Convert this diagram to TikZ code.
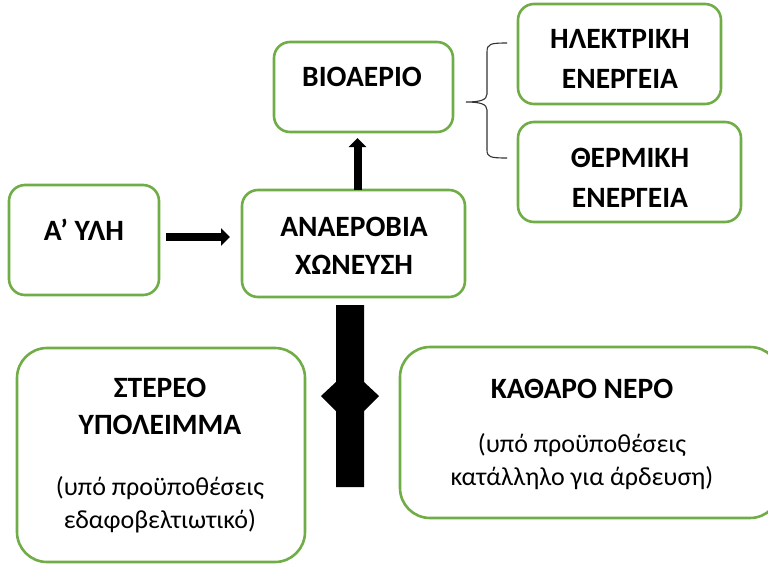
\documentclass[tikz,border=0pt]{standalone}
\usepackage{fontspec}
\setmainfont{Carlito}
\usetikzlibrary{arrows.meta}
\definecolor{boxgreen}{HTML}{70AD47}
\begin{document}
\begin{tikzpicture}[x=1pt,y=-1pt,
  box/.style={draw=boxgreen,line width=2.6pt,rounded corners=16pt,fill=white,
    inner sep=0pt,outer sep=0pt,anchor=north west},
  bigbox/.style={box,rounded corners=30pt},
  head/.style={font=\fontsize{29.5}{33}\selectfont\bfseries,inner sep=0pt},
  note/.style={font=\fontsize{26}{30}\selectfont,inner sep=0pt},
  flow/.style={line width=8pt,-{Triangle[length=9pt,width=17pt]}}]
\useasboundingbox (0,0) rectangle (768,565);
% boxes
\node[box,minimum width=179pt,minimum height=90pt] (bio) at (274,42) {};
\node[box,minimum width=203pt,minimum height=100pt] (elec) at (518,4) {};
\node[box,minimum width=223pt,minimum height=100pt] (therm) at (518,122) {};
\node[box,minimum width=150pt,minimum height=110pt] (raw) at (9,185) {};
\node[box,minimum width=223pt,minimum height=107pt] (digest) at (242,190) {};
\node[bigbox,minimum width=288pt,minimum height=214pt] (solid) at (17,348) {};
\node[bigbox,minimum width=380pt,minimum height=171pt] (water) at (400,347) {};
% labels
\node[head] (tbio) at (362,77) {ΒΙΟΑΕΡΙΟ};
\node[head] (telec1) at (620,39) {ΗΛΕΚΤΡΙΚΗ};
\node[head] (telec2) at (620,79) {ΕΝΕΡΓΕΙΑ};
\node[head] (ttherm1) at (630,157.5) {ΘΕΡΜΙΚΗ};
\node[head] (ttherm2) at (630,197.5) {ΕΝΕΡΓΕΙΑ};
\node[head] (traw) at (84,230) {Α’ ΥΛΗ};
\node[head] (tdig1) at (354,227) {ΑΝΑΕΡΟΒΙΑ};
\node[head] (tdig2) at (354,265) {ΧΩΝΕΥΣΗ};
\node[head] (tsol1) at (160,388) {ΣΤΕΡΕΟ};
\node[head] (tsol2) at (160,425) {ΥΠΟΛΕΙΜΜΑ};
\node[note] (tsol3) at (160,488) {(υπό προϋποθέσεις};
\node[note] (tsol4) at (160,521) {εδαφοβελτιωτικό)};
\node[head] (twat1) at (582,389) {ΚΑΘΑΡΟ ΝΕΡΟ};
\node[note] (twat2) at (582,445) {(υπό προϋποθέσεις};
\node[note] (twat3) at (582,478) {κατάλληλο για άρδευση)};
% arrows
\draw[flow] ([xshift=7pt,yshift=3pt]raw.east) -- ([xshift=-12pt,yshift=6.5pt]digest.west);
\draw[flow] ([xshift=4pt]digest.north) -- ([xshift=-6pt,yshift=-6pt]bio.south);
% split outflow below the digester
\fill ([yshift=-8pt]digest.south -| 336,0) -- (364,305) -- (364,382) -- (379,396)
  -- (364,411) -- (364,487) -- (336,487) -- (336,411) -- (321,396) -- (336,382) -- cycle;
% brace towards the energy boxes
\coordinate (bt) at (507,43);
\coordinate (bb) at (507,158);
\draw[line width=1.1pt,black!80] (bt) .. controls (490,43) and (487,44) .. (487,52)
  -- (487,94) .. controls (487,100) and (480,102) .. (466,102)
  .. controls (480,102) and (487,104) .. (487,110)
  -- (487,150) .. controls (487,157) and (490,158) .. (bb);
\end{tikzpicture}
\end{document}
